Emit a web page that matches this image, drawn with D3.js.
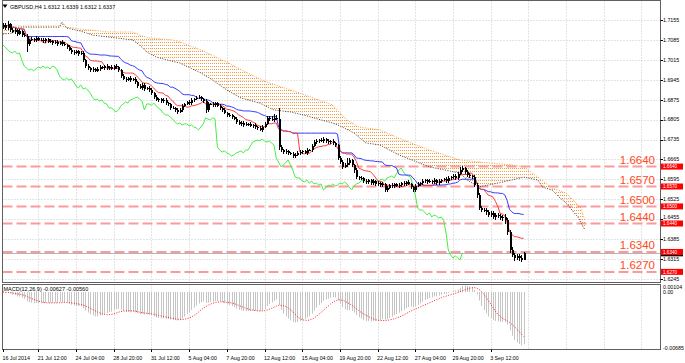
<!DOCTYPE html>
<html>
<head>
<meta charset="utf-8">
<script src="https://cdn.jsdelivr.net/npm/d3@7"></script>
<style>
body { margin: 0; background: #fff; }
text { font-family: "Liberation Sans", Arial, sans-serif; }
</style>
</head>
<body>
<div id="chart"></div>
<script>
// GBPUSD H4 candles (close of each bar, wicks in pips)
const firstOpen = 1.7130;
const closes = [
  1.7137, 1.7127, 1.7141, 1.7120, 1.7113, 1.7120, 1.7106, 1.7116, 1.7102, 1.7099,
  1.7071, 1.7085, 1.7088, 1.7085, 1.7092, 1.7085, 1.7085, 1.7081, 1.7088, 1.7078,
  1.7081, 1.7074, 1.7078, 1.7071, 1.7078, 1.7071, 1.7067, 1.7060, 1.7050, 1.7043,
  1.7039, 1.7046, 1.7036, 1.7039, 1.7014, 1.6993, 1.6986, 1.6979, 1.6983, 1.6976,
  1.6983, 1.6990, 1.6986, 1.6993, 1.6986, 1.6990, 1.6983, 1.6993, 1.6990, 1.6979,
  1.6958, 1.6948, 1.6944, 1.6951, 1.6944, 1.6948, 1.6937, 1.6923, 1.6916, 1.6927,
  1.6913, 1.6916, 1.6909, 1.6898, 1.6884, 1.6874, 1.6877, 1.6870, 1.6874, 1.6863,
  1.6860, 1.6846, 1.6846, 1.6839, 1.6832, 1.6839, 1.6853, 1.6860, 1.6867, 1.6863,
  1.6874, 1.6877, 1.6881, 1.6884, 1.6877, 1.6870, 1.6839, 1.6860, 1.6860, 1.6856,
  1.6863, 1.6853, 1.6846, 1.6839, 1.6828, 1.6821, 1.6821, 1.6814, 1.6807, 1.6797,
  1.6790, 1.6793, 1.6786, 1.6790, 1.6790, 1.6783, 1.6786, 1.6779, 1.6776, 1.6769,
  1.6779, 1.6790, 1.6811, 1.6807, 1.6804, 1.6811, 1.6807, 1.6709, 1.6698, 1.6691,
  1.6695, 1.6688, 1.6684, 1.6677, 1.6681, 1.6688, 1.6691, 1.6695, 1.6688, 1.6698,
  1.6698, 1.6712, 1.6726, 1.6730, 1.6733, 1.6730, 1.6737, 1.6730, 1.6726, 1.6730,
  1.6723, 1.6716, 1.6670, 1.6656, 1.6639, 1.6646, 1.6653, 1.6663, 1.6646, 1.6628,
  1.6603, 1.6600, 1.6600, 1.6589, 1.6586, 1.6593, 1.6582, 1.6589, 1.6579, 1.6582,
  1.6575, 1.6579, 1.6558, 1.6565, 1.6575, 1.6572, 1.6579, 1.6572, 1.6575, 1.6582,
  1.6579, 1.6586, 1.6579, 1.6568, 1.6558, 1.6572, 1.6579, 1.6582, 1.6589, 1.6593,
  1.6586, 1.6589, 1.6586, 1.6593, 1.6582, 1.6589, 1.6593, 1.6596, 1.6589, 1.6600,
  1.6603, 1.6607, 1.6600, 1.6614, 1.6628, 1.6635, 1.6621, 1.6610, 1.6607, 1.6603,
  1.6575, 1.6540, 1.6494, 1.6487, 1.6487, 1.6480, 1.6470, 1.6477, 1.6463, 1.6470,
  1.6466, 1.6459, 1.6463, 1.6452, 1.6410, 1.6347, 1.6329, 1.6319, 1.6326, 1.6319,
  1.6312, 1.6337
];
const wickUp = [
  8, 6, 10, 5, 6, 7, 4, 6, 5, 8,   6, 5, 7, 4, 6, 5, 7, 6, 5, 4,
  6, 5, 7, 5, 4, 6, 5, 4, 6, 5,    7, 4, 5, 8, 6, 5, 7, 4, 6, 5,
  6, 7, 5, 4, 6, 5, 7, 5, 6, 4,    5, 7, 6, 5, 8, 4, 6, 5, 7, 6,
  5, 4, 6, 7, 5, 6, 4, 5, 7, 6,    5, 4, 6, 5, 7, 8, 6, 5, 4, 6,
  7, 5, 6, 8, 5, 4, 6, 7, 5, 6,    4, 5, 6, 5, 7, 4, 6, 5, 4, 6,
  5, 7, 6, 5, 4, 6, 5, 7, 5, 6,    8, 6, 7, 5, 9, 12, 10, 39, 6, 5,
  6, 5, 4, 6, 5, 7, 6, 5, 4, 6,    5, 7, 6, 8, 5, 6, 7, 5, 6, 5,
  6, 5, 4, 6, 7, 5, 17, 6, 5, 4,   6, 5, 7, 4, 6, 5, 4, 6, 5, 7,
  5, 6, 4, 7, 5, 6, 5, 4, 6, 5,    7, 5, 6, 4, 5, 6, 7, 5, 6, 5,
  4, 6, 5, 7, 5, 6, 4, 5, 6, 7,    5, 6, 8, 7, 9, 6, 5, 7, 6, 5,
  6, 7, 8, 6, 9, 7, 6, 8, 7, 6,    8, 7, 6, 9, 7, 8, 10, 6, 8, 7,
  9, 2
];
const wickDown = [
  5, 7, 6, 8, 5, 6, 7, 5, 6, 5,    28, 6, 5, 7, 6, 5, 4, 6, 7, 5,
  5, 6, 4, 7, 5, 6, 5, 7, 4, 6,    6, 5, 7, 4, 6, 8, 5, 7, 6, 5,
  5, 6, 4, 7, 5, 6, 5, 4, 6, 5,    7, 5, 6, 4, 6, 5, 7, 6, 5, 8,
  6, 5, 7, 5, 6, 4, 7, 5, 6, 5,    6, 7, 5, 8, 6, 5, 6, 4, 5, 7,
  5, 6, 4, 5, 7, 6, 12, 8, 5, 6,   6, 5, 7, 6, 5, 8, 6, 7, 5, 6,
  5, 6, 7, 5, 6, 5, 8, 6, 7, 5,    6, 5, 4, 6, 5, 7, 5, 12, 8, 7,
  6, 7, 5, 8, 6, 5, 7, 6, 5, 6,    5, 6, 4, 5, 6, 5, 7, 6, 5, 6,
  6, 7, 8, 6, 7, 5, 6, 7, 8, 9,    7, 6, 8, 5, 6, 7, 6, 5, 7, 6,
  6, 5, 7, 6, 5, 6, 7, 5, 6, 5,    6, 7, 5, 6, 8, 6, 5, 7, 6, 5,
  6, 5, 7, 6, 5, 6, 7, 5, 6, 5,    6, 5, 7, 6, 5, 7, 6, 5, 7, 6,
  8, 9, 7, 8, 6, 9, 7, 8, 7, 9,    7, 8, 9, 12, 10, 9, 8, 10, 7, 9,
  8, 0
];

// Ichimoku cloud edges [bar, price] (drawn 26 bars ahead of price)
const spanA = [
  [0, 1.7106], [4, 1.7109], [7, 1.7130], [24, 1.7130], [25, 1.7148], [27, 1.7127],
  [33, 1.7116], [38, 1.7102], [45, 1.7095], [55, 1.7085], [58, 1.7067], [61, 1.7043],
  [65, 1.7025], [70, 1.7014], [75, 1.7004], [84, 1.6969], [89, 1.6944], [95, 1.6909],
  [101, 1.6881], [109, 1.6863], [115, 1.6839], [122, 1.6832], [129, 1.6818], [135, 1.6804],
  [140, 1.6793], [143, 1.6783], [149, 1.6758], [154, 1.6723], [160, 1.6716], [168, 1.6681],
  [181, 1.6639], [194, 1.6617], [197, 1.6593], [202, 1.6568], [210, 1.6582], [216, 1.6593],
  [221, 1.6603], [227, 1.6593], [229, 1.6568], [233, 1.6558], [236, 1.6533], [239, 1.6512],
  [244, 1.6463], [247, 1.6417]
];
const spanB = [
  [0, 1.7130], [7, 1.7134], [24, 1.7134], [27, 1.7130], [33, 1.7123], [45, 1.7113],
  [55, 1.7113], [58, 1.7102], [62, 1.7092], [72, 1.7085], [75, 1.7078], [84, 1.7050],
  [95, 1.7007], [103, 1.6972], [112, 1.6937], [122, 1.6909], [126, 1.6898], [140, 1.6856],
  [143, 1.6828], [146, 1.6804], [151, 1.6779], [160, 1.6769], [168, 1.6740], [181, 1.6698],
  [194, 1.6663], [202, 1.6656], [216, 1.6646], [221, 1.6639], [227, 1.6603], [233, 1.6565],
  [239, 1.6547], [245, 1.6498], [247, 1.6452]
];

const levels = [1.6640, 1.6570, 1.6500, 1.6440, 1.6340, 1.6270];
const priceTicks = ["1.7155", "1.7085", "1.7015", "1.6945", "1.6875", "1.6805", "1.6735",
  "1.6665", "1.6595", "1.6525", "1.6455", "1.6385", "1.6315", "1.6245"];
const macdTicks = ["0.00104", "0.00", "-0.00685"];
const timeLabels = [[0, "16 Jul 2014"], [15, "21 Jul 12:00"], [31, "24 Jul 04:00"],
  [47, "28 Jul 20:00"], [63, "31 Jul 12:00"], [79, "5 Aug 04:00"], [95, "7 Aug 20:00"],
  [111, "12 Aug 12:00"], [127, "15 Aug 04:00"], [143, "19 Aug 20:00"], [159, "22 Aug 12:00"],
  [175, "27 Aug 04:00"], [191, "29 Aug 20:00"], [207, "3 Sep 12:00"]];
const symbol = "GBPUSD,H4";
const macdTitle = "MACD(12,26,9) -0.00627 -0.00560";

const pip = 0.0001;
const W = 685, H = 363;
const left = 2.5, right = 660.5, mainTop = 0.5, mainBottom = 282.5, subTop = 284.5, subBottom = 349.5;

const svg = d3.select("#chart").append("svg")
  .attr("width", W).attr("height", H)
  .style("display", "block");

const x = d3.scaleLinear().domain([0, 279]).range([3, 660.3]);
const y = d3.scaleLinear().domain([1.6245, 1.7155]).range([279, 20]);
const ym = d3.scaleLinear().domain([-0.00685, 0.00104]).range([348.5, 283.5]);

const bars = closes.map((c, i) => {
  const o = i ? closes[i - 1] : firstOpen;
  return { i, o, c, h: Math.max(o, c) + wickUp[i] * pip, l: Math.min(o, c) - wickDown[i] * pip };
});

// indicators
const midline = n => bars.map((b, i) => {
  const w = bars.slice(Math.max(0, i - n + 1), i + 1);
  return [i, (d3.max(w, d => d.h) + d3.min(w, d => d.l)) / 2];
});
const tenkan = midline(9);
const kijun = midline(26);
const chikou = closes.slice(26).map((c, i) => [i, c]);

const ema = (vals, n) => { const k = 2 / (n + 1); let e = vals[0]; return vals.map(v => (e = v * k + e * (1 - k))); };
const e12 = ema(closes, 12), e26 = ema(closes, 26);
const macd = closes.map((c, i) => e12[i] - e26[i]);
const signal = macd.map((m, i) => d3.mean(macd.slice(Math.max(0, i - 8), i + 1)));

const defs = svg.append("defs");
defs.append("clipPath").attr("id", "mainClip").append("rect")
  .attr("x", left).attr("y", mainTop).attr("width", right - left).attr("height", mainBottom - mainTop);
const pat = defs.append("pattern").attr("id", "hatch")
  .attr("patternUnits", "userSpaceOnUse").attr("width", 2).attr("height", 3);
pat.append("rect").attr("width", 1).attr("height", 1).attr("fill", "#f39a40");

// grids
const gridBars = d3.range(15, 280, 16);
const grid = svg.append("g").attr("stroke", "#c8c8c8").attr("stroke-dasharray", "1,2");
grid.selectAll(".vm").data(gridBars).join("line")
  .attr("x1", d => Math.round(x(d)) + 0.5).attr("x2", d => Math.round(x(d)) + 0.5)
  .attr("y1", mainTop).attr("y2", mainBottom);
grid.selectAll(".vs").data(gridBars).join("line")
  .attr("x1", d => Math.round(x(d)) + 0.5).attr("x2", d => Math.round(x(d)) + 0.5)
  .attr("y1", subTop).attr("y2", subBottom);
grid.selectAll(".h").data(priceTicks).join("line")
  .attr("x1", left).attr("x2", right)
  .attr("y1", d => Math.round(y(+d)) + 0.5).attr("y2", d => Math.round(y(+d)) + 0.5);

const main = svg.append("g").attr("clip-path", "url(#mainClip)");

// horizontal level lines
main.selectAll(".lvl").data(levels).join("line")
  .attr("x1", left).attr("x2", right)
  .attr("y1", d => y(d)).attr("y2", d => y(d))
  .attr("stroke", "#fb9a9a").attr("stroke-width", 2).attr("stroke-dasharray", "10,4");

// bid line
const lastBar = bars[bars.length - 1];
main.append("line").attr("x1", left).attr("x2", right)
  .attr("y1", Math.round(y(lastBar.c)) + 0.5).attr("y2", Math.round(y(lastBar.c)) + 0.5)
  .attr("stroke", "#b4b4b4");

// cloud
const line = d3.line().x(d => x(d[0])).y(d => y(d[1]));
main.append("path")
  .attr("d", line(spanB.concat(spanA.slice().reverse())) + "Z")
  .attr("fill", "url(#hatch)");
main.append("path").attr("d", line(spanB)).attr("fill", "none")
  .attr("stroke", "#f5a04a").attr("stroke-dasharray", "1,1.5");
main.append("path").attr("d", line(spanA)).attr("fill", "none")
  .attr("stroke", "#4a3a2a").attr("stroke-dasharray", "1,1.5");

// ichimoku lines
main.append("path").attr("d", line(chikou)).attr("fill", "none").attr("stroke", "#44ee44");
main.append("path").attr("d", line(kijun)).attr("fill", "none").attr("stroke", "#3838ff");
main.append("path").attr("d", line(tenkan)).attr("fill", "none").attr("stroke", "#ff3a3a");

// candles
const cg = main.append("g").attr("shape-rendering", "crispEdges");
cg.selectAll("line").data(bars).join("line")
  .attr("x1", d => Math.round(x(d.i)) + 0.5).attr("x2", d => Math.round(x(d.i)) + 0.5)
  .attr("y1", d => y(d.h)).attr("y2", d => y(d.l))
  .attr("stroke", "#000");
cg.selectAll("rect").data(bars).join("rect")
  .attr("x", d => Math.round(x(d.i)))
  .attr("width", 2)
  .attr("y", d => y(Math.max(d.o, d.c)))
  .attr("height", d => Math.max(1, y(Math.min(d.o, d.c)) - y(Math.max(d.o, d.c))))
  .attr("fill", "#000");

// level labels inside chart
svg.selectAll(".lvlText").data(levels).join("text")
  .attr("x", 655).attr("y", d => y(d) - 2.5)
  .attr("text-anchor", "end").attr("font-size", 11.5).attr("fill", "#ff4a1a")
  .text(d => d.toFixed(4));

// MACD
const sub = svg.append("g");
sub.selectAll("line").data(macd).join("line")
  .attr("x1", (d, i) => Math.round(x(i)) + 0.5).attr("x2", (d, i) => Math.round(x(i)) + 0.5)
  .attr("y1", ym(0)).attr("y2", d => ym(d))
  .attr("stroke", "#c4c4c4");
sub.append("path")
  .attr("d", d3.line().x((d, i) => x(i)).y(d => ym(d))(signal))
  .attr("fill", "none").attr("stroke", "#ff2020").attr("stroke-dasharray", "1,1.5");

// frames
svg.append("rect").attr("x", left).attr("y", mainTop).attr("width", right - left).attr("height", mainBottom - mainTop)
  .attr("fill", "none").attr("stroke", "#606060");
svg.append("rect").attr("x", left).attr("y", subTop).attr("width", right - left).attr("height", subBottom - subTop)
  .attr("fill", "none").attr("stroke", "#606060");

// price axis; a label squeezed by a level tag moves up a little, as on the reference
const nudge = v => {
  const near = levels.find(l => Math.abs(y(l) - y(v)) < 6);
  return near === undefined ? 0 : (y(near) > y(v) ? -1.8 : 1.8);
};
const axisG = svg.append("g").attr("font-size", 5.3).attr("fill", "#000");
axisG.selectAll("line").data(priceTicks).join("line")
  .attr("x1", right).attr("x2", right + 2.5)
  .attr("y1", d => Math.round(y(+d)) + 0.5).attr("y2", d => Math.round(y(+d)) + 0.5)
  .attr("stroke", "#000");
axisG.selectAll("text").data(priceTicks).join("text")
  .attr("x", 663).attr("y", d => y(+d) + nudge(+d)).attr("dy", "0.35em")
  .text(d => d);

// bid price marker and level tags on the axis
svg.append("rect").attr("x", 661).attr("y", y(lastBar.c) - 2.5).attr("width", 22).attr("height", 6).attr("fill", "#000");
const tags = svg.append("g");
tags.selectAll("rect").data(levels).join("rect")
  .attr("x", 661).attr("y", d => y(d) - 3).attr("width", 22).attr("height", 6).attr("fill", "#ff0000");
tags.selectAll("text").data(levels).join("text")
  .attr("x", 663).attr("y", d => y(d) + 0.2).attr("dy", "0.33em")
  .attr("font-size", 4.6).attr("fill", "#fff")
  .text(d => d.toFixed(4));

// MACD axis
svg.selectAll(".mt").data(macdTicks).join("text")
  .attr("x", 663)
  .attr("y", d => Math.min(348, Math.max(287, ym(+d))))
  .attr("dy", "0.35em").attr("font-size", 5.3)
  .text(d => d);

// time axis
svg.selectAll(".tl").data(timeLabels).join("text")
  .attr("x", d => x(d[0]) - 0.5).attr("y", 359.5)
  .attr("font-size", 5.3)
  .text(d => d[1]);
svg.selectAll(".tt").data(timeLabels).join("line")
  .attr("x1", d => Math.round(x(d[0])) + 0.5).attr("x2", d => Math.round(x(d[0])) + 0.5)
  .attr("y1", subBottom).attr("y2", subBottom + 2.5).attr("stroke", "#000");

// titles
svg.append("path").attr("d", "M2.5,4.5 L7.5,4.5 L5,8 Z").attr("fill", "#000");
svg.append("text").attr("x", 10).attr("y", 9).attr("font-size", 5.5)
  .text(`${symbol}  ${[lastBar.o, lastBar.h, lastBar.l, lastBar.c].map(v => v.toFixed(4)).join(" ")}`);
svg.append("text").attr("x", 3.5).attr("y", 291).attr("font-size", 5.5)
  .text(macdTitle);
</script>
</body>
</html>
